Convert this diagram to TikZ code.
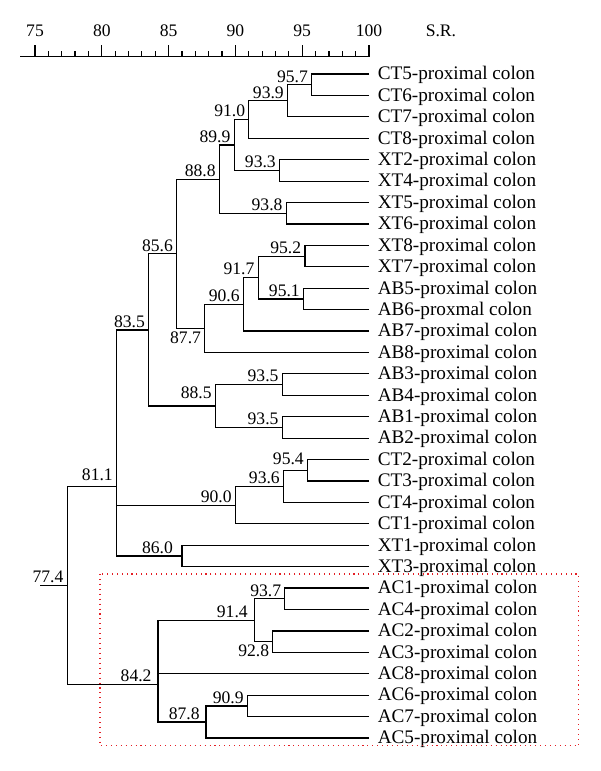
\documentclass[tikz,border=0pt]{standalone}
\usepackage{fontspec}
\setmainfont{Liberation Serif}
\definecolor{boxred}{RGB}{228,30,36}
\begin{document}
\begin{tikzpicture}[x=0.75pt,y=-0.75pt]
\tikzset{
  branch/.style={draw=black, line width=0.9pt},
  leaflab/.style={anchor=base west, inner sep=0pt, font=\fontsize{14.4}{17}\selectfont},
  numlab/.style={anchor=south east, inner xsep=2.6pt, inner ysep=1.6pt, font=\fontsize{13.2}{15}\selectfont},
  numlabbelow/.style={numlab, anchor=north east, inner ysep=2pt},
  scalelab/.style={anchor=base, inner sep=0pt, font=\fontsize{13.2}{15}\selectfont},
  redbox/.style={draw=boxred, dash pattern=on 0.8pt off 2.9pt, line width=0.8pt}
}
\useasboundingbox (0,0) rectangle (600,771);

% ---- scale ----
\draw[branch] (20,56.7) -- (369,56.7);
\foreach \k in {0,...,25} \draw[branch] ({35+\k*13.36},56.7) -- ++(0,-6);
\foreach \k/\lab in {0/75,5/80,10/85,15/90,20/95,25/100}{
  \draw[branch] ({35+\k*13.36},56.7) -- ++(0,-11.7);
  \node[scalelab] at ({35+\k*13.36},36.5) {\lab};
}
\node[scalelab, anchor=base west] (sr) at (425.5,36.5) {S.R.};

% ---- leaves ----
\foreach \i/\txt in {0/CT5-proximal colon,1/CT6-proximal colon,2/CT7-proximal colon,3/CT8-proximal colon,
  4/XT2-proximal colon,5/XT4-proximal colon,6/XT5-proximal colon,7/XT6-proximal colon,
  8/XT8-proximal colon,9/XT7-proximal colon,10/AB5-proximal colon,11/AB6-proxmal colon,
  12/AB7-proximal colon,13/AB8-proximal colon,14/AB3-proximal colon,15/AB4-proximal colon,
  16/AB1-proximal colon,17/AB2-proximal colon,18/CT2-proximal colon,19/CT3-proximal colon,
  20/CT4-proximal colon,21/CT1-proximal colon,22/XT1-proximal colon,23/XT3-proximal colon,
  24/AC1-proximal colon,25/AC4-proximal colon,26/AC2-proximal colon,27/AC3-proximal colon,
  28/AC8-proximal colon,29/AC6-proximal colon,30/AC7-proximal colon,31/AC5-proximal colon}{
  \coordinate (e\i) at (369,{74+21.42*\i});
  \node[leaflab] (l\i) at (377.5,{74+21.42*\i+5.8}) {\txt};
}

% ---- internal nodes ----
\coordinate (n957) at (311.6,84.7);
\coordinate (n939) at (287.5,100.8);
\coordinate (n910) at (248.8,119.5);
\coordinate (n933) at (279.5,170.4);
\coordinate (n899) at (234.1,145.0);
\coordinate (n938) at (286.2,213.2);
\coordinate (n888) at (219.4,179.1);
\coordinate (n952) at (304.9,256.1);
\coordinate (n951) at (303.5,298.9);
\coordinate (n917) at (258.1,277.5);
\coordinate (n906) at (243.4,304.3);
\coordinate (n877) at (204.7,328.4);
\coordinate (n856) at (176.6,253.7);
\coordinate (n935a) at (282.2,384.6);
\coordinate (n935b) at (282.2,427.4);
\coordinate (n885) at (215.4,406.0);
\coordinate (n835) at (148.6,329.9);
\coordinate (n954) at (307.5,470.3);
\coordinate (n936) at (283.5,486.3);
\coordinate (n900) at (235.4,505.1);
\coordinate (n860) at (182.0,556.0);
\coordinate (n811) at (116.5,486.7);
\coordinate (n937) at (284.8,598.8);
\coordinate (n928) at (272.8,641.6);
\coordinate (n914) at (254.1,620.2);
\coordinate (n909) at (247.4,705.9);
\coordinate (n878) at (206.0,722.0);
\coordinate (n842) at (157.9,684.5);
\coordinate (n774) at (67.1,585.6);
\coordinate (r0) at (40,585.6);

% ---- branches ----
\foreach \c/\p in {e0/n957,e1/n957,n957/n939,e2/n939,n939/n910,e3/n910,
  e4/n933,e5/n933,n910/n899,n933/n899,e6/n938,e7/n938,n899/n888,n938/n888,
  e8/n952,e9/n952,e10/n951,e11/n951,n952/n917,n951/n917,n917/n906,e12/n906,
  n906/n877,e13/n877,n888/n856,n877/n856,e14/n935a,e15/n935a,e16/n935b,e17/n935b,
  n935a/n885,n935b/n885,n856/n835,n885/n835,e18/n954,e19/n954,n954/n936,e20/n936,
  n936/n900,e21/n900,e22/n860,e23/n860,n835/n811,n900/n811,n860/n811,
  e24/n937,e25/n937,e26/n928,e27/n928,n937/n914,n928/n914,e29/n909,e30/n909,
  n909/n878,e31/n878,n914/n842,e28/n842,n878/n842,n811/n774,n842/n774}
  \draw[branch] (\c) -| (\p);
\draw[branch] (r0) -- (n774);

% ---- value labels ----
\node[numlab] (t957) at (n957) {95.7};
\node[numlab] (t939) at (n939) {93.9};
\node[numlab] (t910) at (n910) {91.0};
\node[numlab] (t933) at (n933) {93.3};
\node[numlab] (t899) at (n899) {89.9};
\node[numlab] (t938) at (n938) {93.8};
\node[numlab] (t888) at (n888) {88.8};
\node[numlab] (t952) at (n952) {95.2};
\node[numlab] (t951) at (n951) {95.1};
\node[numlab] (t917) at (n917) {91.7};
\node[numlab] (t906) at (n906) {90.6};
\node[numlabbelow] (t877) at (n877) {87.7};
\node[numlab] (t856) at (n856) {85.6};
\node[numlab] (t935a) at (n935a) {93.5};
\node[numlab] (t935b) at (n935b) {93.5};
\node[numlab, yshift=4pt] (t885) at (n885) {88.5};
\node[numlab] (t835) at (n835) {83.5};
\node[numlab, yshift=2pt] (t954) at (n954) {95.4};
\node[numlab] (t936) at (n936) {93.6};
\node[numlab] (t900) at (n900) {90.0};
\node[numlab, xshift=-4pt] (t860) at (n860) {86.0};
\node[numlab, yshift=3pt] (t811) at (n811) {81.1};
\node[numlab] (t937) at (n937) {93.7};
\node[numlabbelow] (t928) at (n928) {92.8};
\node[numlab, xshift=-2pt] (t914) at (n914) {91.4};
\node[numlab] (t909) at (n909) {90.9};
\node[numlab, xshift=-2pt] (t878) at (n878) {87.8};
\node[numlab, xshift=-2pt] (t842) at (n842) {84.2};
\node[numlab] (t774) at (n774) {77.4};

% ---- highlight box ----
\draw[redbox] (100,574) rectangle (578.5,745.7);
\end{tikzpicture}
\end{document}
